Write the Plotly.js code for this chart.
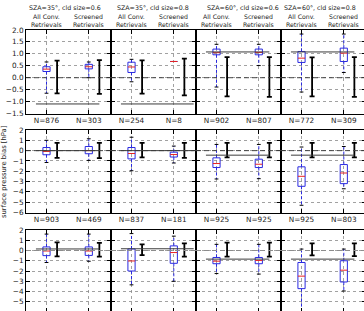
<!DOCTYPE html>
<html>
<head>
<meta charset="utf-8">
<script src="https://cdn.plot.ly/plotly-3.0.1.min.js"></script>
<style>
  html, body { margin: 0; padding: 0; overflow: hidden; background: #fff; }
  #chart { width: 368px; height: 316px; }
</style>
</head>
<body>
<div id="chart"></div>
<script>
// Column headers: solar zenith angle / cloud size cases
const scenarios = ['SZA=35°, cld size=0.6', 'SZA=35°, cld size=0.8', 'SZA=60°, cld size=0.6', 'SZA=60°, cld size=0.8'];
const groupLine1 = ['All Conv.', 'Screened'];
const groupLine2 = ['Retrievals', 'Retrievals'];
const yTitle = 'surface pressure bias [hPa]';

// Sample counts under each box, [row][column][group]
const counts = [
  [['N=876', 'N=303'], ['N=254', 'N=8'], ['N=902', 'N=807'], ['N=772', 'N=309']],
  [['N=903', 'N=469'], ['N=837', 'N=181'], ['N=925', 'N=925'], ['N=925', 'N=803']],
  [['', ''], ['', ''], ['', ''], ['', '']]
];

// Box statistics (hPa), [row][column][group]
const whiskerLow = [
  [[-0.65, 0.0], [-0.17, 0.68], [-0.39, 0.51], [-0.6, 0.22]],
  [[-1.15, -0.95], [-1.95, -1.2], [-2.75, -2.72], [-5.3, -3.7]],
  [[-1.17, -1.05], [-3.35, -3.0], [-2.25, -2.3], [-6.3, -3.95]]
];
const quartile1 = [
  [[0.26, 0.37], [0.22, 0.68], [0.96, 0.96], [0.64, 0.68]],
  [[-0.4, -0.3], [-0.8, -0.62], [-1.64, -1.64], [-3.46, -3.2]],
  [[-0.5, -0.48], [-2.0, -1.25], [-1.29, -1.29], [-3.72, -3.07]]
];
const medians = [
  [[0.36, 0.46], [0.45, 0.68], [1.05, 1.06], [0.82, 1.03]],
  [[-0.08, 0.0], [-0.28, -0.38], [-1.25, -1.32], [-2.49, -2.17]],
  [[-0.05, -0.05], [-1.02, -0.2], [-1.04, -0.97], [-2.5, -1.92]]
];
const quartile3 = [
  [[0.46, 0.56], [0.65, 0.68], [1.2, 1.2], [1.1, 1.24]],
  [[0.3, 0.4], [0.3, -0.15], [-0.7, -0.83], [-1.57, -1.35]],
  [[0.35, 0.35], [0.15, 0.45], [-0.68, -0.68], [-1.17, -1.0]]
];
const whiskerHigh = [
  [[0.66, 0.66], [0.77, 0.68], [1.4, 1.4], [1.83, 1.83]],
  [[1.0, 1.15], [1.3, 0.44], [0.6, 0.6], [0.35, 0.4]],
  [[1.6, 1.6], [1.65, 1.4], [0.6, 0.6], [0.14, 0.14]]
];

// Expected error range (hPa), [row][column][group] = [low, high]
const errRange = [
  [[[-0.66, 0.72], [-0.68, 0.74]], [[-0.67, 0.73], [-0.74, 0.8]], [[-0.78, 0.86], [-0.8, 0.86]], [[-0.78, 0.85], [-0.8, 0.86]]],
  [[[-0.7, 0.75], [-0.72, 0.76]], [[-0.66, 0.75], [-0.7, 0.76]], [[-0.66, 0.76], [-0.66, 0.76]], [[-0.66, 0.76], [-0.66, 0.76]]],
  [[[-0.58, 0.8], [-0.6, 0.74]], [[-0.45, 0.6], [-0.6, 0.7]], [[-0.6, 0.76], [-0.6, 0.76]], [[-0.48, 0.7], [-0.55, 0.7]]]
];

// Mean bias level drawn as a horizontal line, [row][column]
const meanBias = [
  [-1.1, -1.1, 1.08, 1.08],
  [0.0, 0.0, -0.44, -0.44],
  [0.15, 0.17, -0.84, -0.84]
];

// Y axes per row
const yRanges = [[-1.5, 2.0], [-6, 2], [-6, 2]];
const yTicks = [
  [-1.5, -1.0, -0.5, 0.0, 0.5, 1.0, 1.5, 2.0],
  [-6, -5, -4, -3, -2, -1, 0, 1, 2],
  [-6, -5, -4, -3, -2, -1, 0, 1, 2]
];

// ---- geometry / style ----
const W = 368, H = 316;
const panelLeft = 26, panelW = 85;
const rowTop = [30, 130, 230], rowBot = [113.5, 212.5, 312];
const xRange = [0.515, 2.525];
const boxHalf = 0.085, capHalf = 0.045, errOffset = 0.25;
const meanSpan = [[0.75, 2.25], [0.75, 2.47], [0.75, 2.25], [0.75, 2.25]];
const FONT = 'DejaVu Sans';
const TXT = '#222';
const BLUE = '#2a2ae0', RED = '#e82222';

const traces = [];
const shapes = [];
const annotations = [];
const layout = {
  width: W, height: H,
  margin: {l: 0, r: 0, t: 0, b: 0},
  showlegend: false,
  paper_bgcolor: '#fff', plot_bgcolor: '#fff',
  font: {family: FONT, size: 7, color: TXT}
};

for (let r = 0; r < 3; r++) {
  for (let c = 0; c < 4; c++) {
    const k = r * 4 + c;
    const sfx = k === 0 ? '' : String(k + 1);
    const xa = 'x' + sfx, ya = 'y' + sfx;

    layout['xaxis' + sfx] = {
      domain: [(panelLeft + panelW * c) / W, (panelLeft + panelW * (c + 1)) / W],
      range: xRange, anchor: ya, fixedrange: true,
      tickmode: 'array', tickvals: [1, 2], ticktext: counts[r][c],
      showticklabels: r < 2,
      tickfont: {size: 7.3, color: TXT, family: FONT},
      ticks: 'inside', ticklen: 4, tickcolor: '#000', tickwidth: 1,
      showline: true, linecolor: '#000', linewidth: 1, mirror: 'allticks',
      showgrid: true, gridcolor: '#8a8a8a', gridwidth: 0.8, griddash: 'dot',
      zeroline: false
    };
    layout['yaxis' + sfx] = {
      domain: [(H - rowBot[r]) / H, (H - rowTop[r]) / H],
      range: yRanges[r], anchor: xa, fixedrange: true,
      tickmode: 'array', tickvals: yTicks[r],
      tickformat: r === 0 ? '.1f' : 'd',
      showticklabels: c === 0,
      tickfont: {size: 7.3, color: TXT, family: FONT},
      ticks: 'inside', ticklen: 4, tickcolor: '#000', tickwidth: 1,
      showline: true, linecolor: '#000', linewidth: 1, mirror: 'allticks',
      showgrid: true, gridcolor: '#8a8a8a', gridwidth: 0.8, griddash: 'dot',
      zeroline: false
    };

    // zero reference (full width, dashed) and mean bias line
    shapes.push({
      type: 'line', xref: xa + ' domain', yref: ya, x0: 0, x1: 1, y0: 0, y1: 0,
      line: {color: r === 2 ? '#8c8c8c' : '#444', width: r === 2 ? 1.2 : 1, dash: '5px,3px'}, layer: 'above'
    });
    shapes.push({
      type: 'line', xref: xa, yref: ya, x0: meanSpan[c][0], x1: meanSpan[c][1],
      y0: meanBias[r][c], y1: meanBias[r][c],
      line: {color: '#3c3c3c', width: 1}, layer: 'above'
    });

    // box-and-whisker glyphs
    const bx = [], by = [], mx = [], my = [], wx = [], wy = [], cx = [], cy = [];
    const ex = [], ey = [], ePlus = [], eMinus = [];
    for (let g = 0; g < 2; g++) {
      const p = g + 1;
      const lo = whiskerLow[r][c][g], q1 = quartile1[r][c][g], md = medians[r][c][g];
      const q3 = quartile3[r][c][g], hi = whiskerHigh[r][c][g];
      bx.push(p - boxHalf, p + boxHalf, p + boxHalf, p - boxHalf, p - boxHalf, null);
      by.push(q1, q1, q3, q3, q1, null);
      mx.push(p - boxHalf, p + boxHalf, null);
      my.push(md, md, null);
      wx.push(p, p, null, p, p, null);
      wy.push(q3, hi, null, q1, lo, null);
      cx.push(p - capHalf, p + capHalf, null, p - capHalf, p + capHalf, null);
      cy.push(hi, hi, null, lo, lo, null);

      const [eLo, eHi] = errRange[r][c][g];
      const mid = (eLo + eHi) / 2;
      ex.push(p + errOffset);
      ey.push(mid);
      ePlus.push(eHi - mid);
      eMinus.push(mid - eLo);
    }
    const common = {xaxis: xa, yaxis: ya, hoverinfo: 'skip', showlegend: false};
    traces.push(Object.assign({type: 'scatter', mode: 'lines', x: wx, y: wy,
      line: {color: BLUE, width: 1, dash: '3px,2px'}}, common));
    traces.push(Object.assign({type: 'scatter', mode: 'lines', x: cx, y: cy,
      line: {color: '#000', width: 1}}, common));
    traces.push(Object.assign({type: 'scatter', mode: 'lines', x: bx, y: by,
      line: {color: BLUE, width: 1}}, common));
    traces.push(Object.assign({type: 'scatter', mode: 'lines', x: mx, y: my,
      line: {color: RED, width: 1}}, common));
    traces.push(Object.assign({type: 'scatter', mode: 'markers', x: ex, y: ey,
      marker: {size: 1, color: 'rgba(0,0,0,0)'},
      error_y: {type: 'data', symmetric: false, array: ePlus, arrayminus: eMinus,
                color: '#000', thickness: 1.8, width: 2.5}}, common));

    // headers above the top row
    if (r === 0) {
      for (let g = 0; g < 2; g++) {
        annotations.push({xref: xa, yref: 'paper', x: g + 1, y: 1 - 16 / H, text: groupLine1[g],
          showarrow: false, xanchor: 'center', yanchor: 'middle', font: {size: 6.2, color: TXT, family: FONT}});
        annotations.push({xref: xa, yref: 'paper', x: g + 1, y: 1 - 24.3 / H, text: groupLine2[g],
          showarrow: false, xanchor: 'center', yanchor: 'middle', font: {size: 6.2, color: TXT, family: FONT}});
      }
    }
  }
}

const titleCenters = [65, 153, 243, 320];
scenarios.forEach((s, c) => {
  annotations.push({xref: 'paper', yref: 'paper', x: titleCenters[c] / W, y: 1 - 7.3 / H, text: s,
    showarrow: false, xanchor: 'center', yanchor: 'middle', font: {size: 6.3, color: TXT, family: FONT}});
});

annotations.push({xref: 'paper', yref: 'paper', x: 4 / W, y: 1 - 172 / H, text: yTitle, textangle: -90,
  showarrow: false, xanchor: 'center', yanchor: 'middle', font: {size: 6.8, color: TXT, family: FONT}});

layout.shapes = shapes;
layout.annotations = annotations;

Plotly.newPlot('chart', traces, layout, {staticPlot: true, displayModeBar: false});
</script>
</body>
</html>
